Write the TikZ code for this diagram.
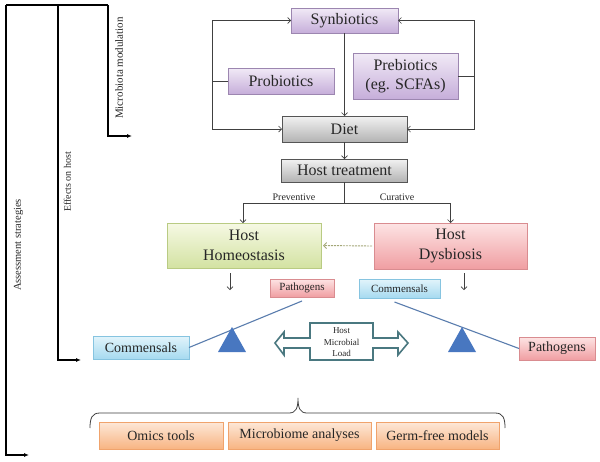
\documentclass[tikz,border=0pt]{standalone}
\usepackage{fontspec}
\setmainfont{Liberation Serif}
\usetikzlibrary{arrows.meta}
\definecolor{txt}{HTML}{262626}
\definecolor{ln}{HTML}{404040}
\definecolor{purT}{HTML}{F1EAF6}\definecolor{purB}{HTML}{C6AEDA}\definecolor{purD}{HTML}{9C86B0}
\definecolor{grT}{HTML}{F2F2F2}\definecolor{grB}{HTML}{B3B3B3}\definecolor{grD}{HTML}{555555}
\definecolor{gnT}{HTML}{F6F9E4}\definecolor{gnB}{HTML}{D3E2A2}\definecolor{gnD}{HTML}{B9CB83}
\definecolor{rdT}{HTML}{FDE4E4}\definecolor{rdB}{HTML}{F09EA2}\definecolor{rdD}{HTML}{D98C90}
\definecolor{blT}{HTML}{E2F4FB}\definecolor{blB}{HTML}{A6DAF0}\definecolor{blD}{HTML}{86C4E0}
\definecolor{orT}{HTML}{FDE8D8}\definecolor{orB}{HTML}{F8B482}\definecolor{orD}{HTML}{F0A36C}
\definecolor{lev}{HTML}{5A7DAE}
\definecolor{tri}{HTML}{4877C0}
\definecolor{teal}{HTML}{4A7880}
\definecolor{dsh}{HTML}{A3A777}
\tikzset{
  box/.style={draw, line width=0.6pt, inner sep=0pt, outer sep=0pt, text=txt, align=center},
  purbox/.style={box, draw=purD, top color=purT, bottom color=purB},
  graybox/.style={box, draw=grD, top color=grT, bottom color=grB},
  greenbox/.style={box, draw=gnD, top color=gnT, bottom color=gnB},
  redbox/.style={box, draw=rdD, top color=rdT, bottom color=rdB},
  bluebox/.style={box, draw=blD, top color=blT, bottom color=blB},
  orbox/.style={box, draw=orD, top color=orT, bottom color=orB},
  big/.style={font=\fontsize{16}{19.5}\selectfont},
  mid/.style={font=\fontsize{14}{16}\selectfont},
  sml/.style={font=\fontsize{11}{13}\selectfont},
  arr/.style={draw=ln, line width=0.7pt, -{Straight Barb[length=3pt,width=6pt]}},
  plain/.style={draw=ln, line width=0.7pt},
  bkarr/.style={draw=black, line width=1.1pt, -{Latex[length=5pt,width=4pt]}},
  bk/.style={draw=black, line width=1.1pt},
  lab/.style={text=txt, font=\fontsize{10}{12}\selectfont, inner sep=0pt},
  rot/.style={lab, rotate=90},
  lever/.style={draw=lev, line width=1.1pt},
  dasharr/.style={draw=dsh, line width=0.9pt, dash pattern=on 2pt off 1pt, -{Straight Barb[length=3pt,width=6pt]}},
}
\begin{document}
\begin{tikzpicture}[x=1pt,y=-1pt]
\useasboundingbox[fill=white] (0,0) rectangle (600,461);

% left brackets
\coordinate (ot) at (6,5);
\coordinate (oe) at (29,455);
\coordinate (mt) at (58,5);
\coordinate (me) at (81,360);
\coordinate (it) at (108,5);
\coordinate (ie) at (132,136);
\draw[bk] (ot) -- (it);
\draw[bkarr] (ot) |- (oe);
\draw[bkarr] (mt) |- (me);
\draw[bkarr] (it) |- (ie);
\node[rot, font=\fontsize{11}{13}\selectfont] (lmm) at (119,68) {Microbiota modulation};
\node[rot] (leh) at (67.5,182) {Effects on host};
\node[rot, font=\fontsize{10.5}{12}\selectfont] (las) at (18.5,245) {Assessment strategies};

% top boxes
\node[purbox, big, minimum width=107pt, minimum height=25pt] (syn) at (344.5,20.5) {Synbiotics};
\node[purbox, big, minimum width=106pt, minimum height=26pt] (prob) at (281,81) {Probiotics};
\node[purbox, big, minimum width=105pt, minimum height=46pt] (preb) at (405.5,76) {Prebiotics\\(eg. SCFAs)};
\node[graybox, big, minimum width=125pt, minimum height=26pt] (diet) at (344.5,129) {Diet};
\node[graybox, big, minimum width=126pt, minimum height=23pt] (ht) at (344.5,170.5) {Host treatment};

\coordinate (lx) at (212,0);
\coordinate (rx) at (474,0);
\draw[plain] (prob.west) -- (prob.west -| lx);
\draw[arr] (prob.west -| lx) |- (syn.west);
\draw[arr] (prob.west -| lx) |- (diet.west);
\draw[plain] (preb.east) -- (preb.east -| rx);
\draw[arr] (preb.east -| rx) |- (syn.east);
\draw[arr] (preb.east -| rx) |- (diet.east);
\draw[arr] (syn) -- (diet);
\draw[arr] (diet) -- (ht);

% host states
\node[greenbox, big, minimum width=154pt, minimum height=45pt] (hh) at (244,245.5) {Host\\Homeostasis};
\node[redbox, big, minimum width=153pt, minimum height=46pt] (hd) at (450.5,246) {Host\\Dysbiosis};
\coordinate (sp) at (344.5,203);
\draw[plain] (ht.south) -- (sp);
\draw[arr] (sp) -| ([xshift=-1pt]hh.north);
\draw[arr] (sp) -| (hd.north);
\node[lab] (prev) at (294,197.5) {Preventive};
\node[lab] (cur) at (397,197.5) {Curative};
\draw[dasharr] ([xshift=-2pt]hd.west) -- ([xshift=2pt]hh.east);

\coordinate (hhd) at (230,290);
\coordinate (hdd) at (464,290);
\draw[arr] ([yshift=-5pt]hh.south -| hhd) -- (hhd);
\draw[arr] ([yshift=-4pt]hd.south -| hdd) -- (hdd);

% balance
\node[redbox, sml, minimum width=64pt, minimum height=18pt] (spat) at (302,288) {Pathogens};
\node[bluebox, sml, minimum width=81pt, minimum height=19pt] (scom) at (399.5,288.5) {Commensals};
\node[bluebox, mid, minimum width=96pt, minimum height=23pt] (lcom) at (141,347.5) {Commensals};
\node[redbox, mid, minimum width=76pt, minimum height=23pt] (rpat) at (557,348.5) {Pathogens};

\draw[lever] (lcom.east) -- ([yshift=-4pt]spat.south);
\draw[lever] ([xshift=-5pt,yshift=-4pt]scom.south) -- (rpat.west);
\fill[tri] (218,352) -- (232,327) -- (246,352) -- cycle;
\fill[tri] (448,352) -- (462,327) -- (476,352) -- cycle;

% double arrow
\draw[teal, line width=1.6pt, fill=white, line join=miter]
  (310,323) -- (373,323) -- (373,338) -- (398,338) -- (398,332) -- (408,343)
  -- (398,355) -- (398,348) -- (373,348) -- (373,360) -- (310,360) -- (310,348)
  -- (284,348) -- (284,355) -- (275,343) -- (284,332) -- (284,338) -- (310,338) -- cycle;
\node[lab, align=center, font=\fontsize{9}{11.5}\selectfont] (hml) at (341.5,342.5) {Host\\Microbial\\Load};

% brace
\draw[ln, line width=0.8pt] (90,428) .. controls (90,418) and (92,413) .. (100,413) -- (289,413)
  .. controls (296,413) and (298,408) .. (298,398) .. controls (298,408) and (300,413) .. (307,413)
  -- (495,413) .. controls (503,413) and (505,418) .. (505,428);

% bottom
\node[orbox, mid, minimum width=124pt, minimum height=27pt] (omics) at (161,435.5) {Omics tools};
\node[orbox, mid, minimum width=143pt, minimum height=27pt] (micro) at (299.5,435.5) {Microbiome analyses};
\node[orbox, mid, minimum width=123pt, minimum height=27pt] (germ) at (437.5,435.5) {Germ-free models};
\end{tikzpicture}
\end{document}
